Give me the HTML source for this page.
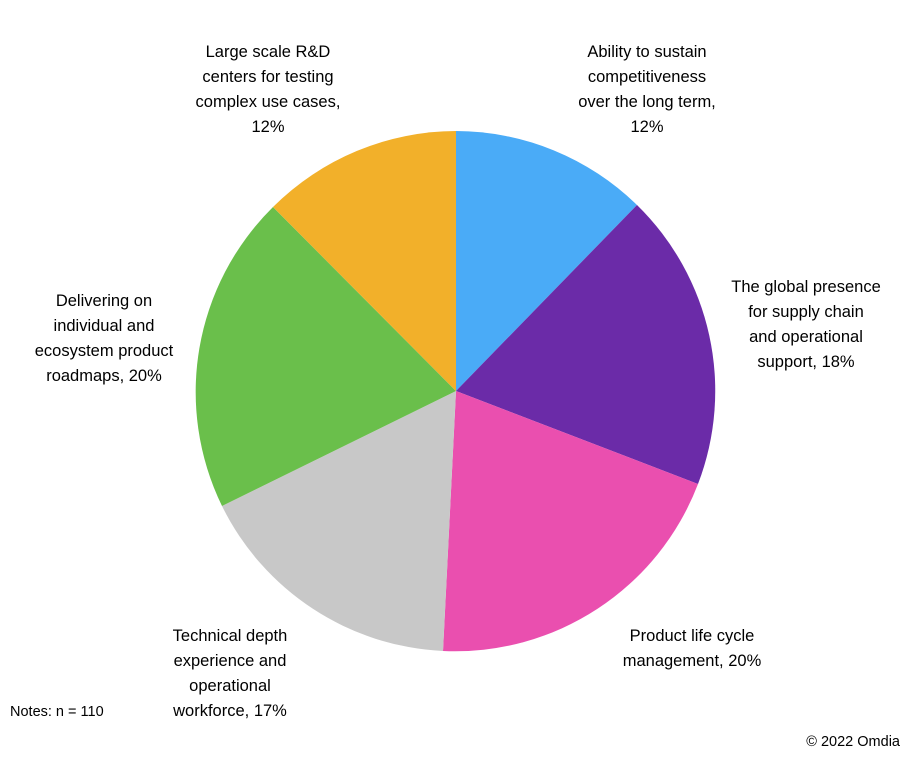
<!DOCTYPE html>
<html><head><meta charset="utf-8"><style>
body{margin:0;background:#fff;width:910px;height:753px;overflow:hidden;font-family:"Liberation Sans",sans-serif;}
svg text{font-family:"Liberation Sans",sans-serif;font-size:16.5px;fill:#000;}
</style></head><body>
<svg width="910" height="753" viewBox="0 0 910 753">
<g>
<path d="M456,391 L456,131 A260,260 0 0 1 637,205 Z" fill="#4aabf7"/>
<path d="M456,391 L637,205 A260,260 0 0 1 698,484 Z" fill="#6b2ba8"/>
<path d="M456,391 L698,484 A260,260 0 0 1 443,651 Z" fill="#ea4faf"/>
<path d="M456,391 L443,651 A260,260 0 0 1 222,506 Z" fill="#c8c8c8"/>
<path d="M456,391 L222,506 A260,260 0 0 1 273,207 Z" fill="#6abf4b"/>
<path d="M456,391 L273,207 A260,260 0 0 1 456,131 Z" fill="#f2b02a"/>
</g>
<g text-anchor="middle">
<text x="268" y="57">Large scale R&amp;D</text>
<text x="268" y="82">centers for testing</text>
<text x="268" y="107">complex use cases,</text>
<text x="268" y="132">12%</text>
<text x="647" y="57">Ability to sustain</text>
<text x="647" y="82">competitiveness</text>
<text x="647" y="107">over the long term,</text>
<text x="647" y="132">12%</text>
<text x="806" y="292">The global presence</text>
<text x="806" y="317">for supply chain</text>
<text x="806" y="342">and operational</text>
<text x="806" y="367">support, 18%</text>
<text x="104" y="306">Delivering on</text>
<text x="104" y="331">individual and</text>
<text x="104" y="356">ecosystem product</text>
<text x="104" y="381">roadmaps, 20%</text>
<text x="692" y="641">Product life cycle</text>
<text x="692" y="666">management, 20%</text>
<text x="230" y="641">Technical depth</text>
<text x="230" y="666">experience and</text>
<text x="230" y="691">operational</text>
<text x="230" y="716">workforce, 17%</text>
</g>
<text x="10" y="716" style="font-size:14.5px">Notes: n = 110</text>
<text x="900" y="746" text-anchor="end" style="font-size:14.5px">© 2022 Omdia</text>
</svg>
</body></html>
